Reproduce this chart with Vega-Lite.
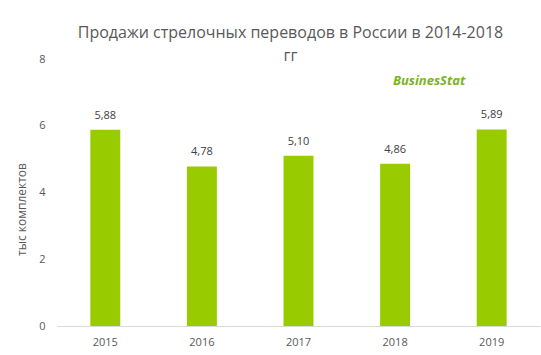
{
  "$schema": "https://vega.github.io/schema/vega-lite/v6.json",
  "width": 483,
  "height": 267,
  "autosize": {"type": "none"},
  "padding": {"left": 57, "top": 59, "right": 1, "bottom": 29},
  "background": "white",
  "title": {
    "text": ["Продажи стрелочных переводов в России в 2014-2018", "гг"],
    "font": "Open Sans",
    "fontSize": 16,
    "fontWeight": "normal",
    "color": "#595959",
    "anchor": "middle",
    "frame": "group",
    "dx": -8,
    "offset": -11,
    "lineHeight": 23
  },
  "data": {
    "values": [
      {"year": "2015", "value": 5.88},
      {"year": "2016", "value": 4.78},
      {"year": "2017", "value": 5.10},
      {"year": "2018", "value": 4.86},
      {"year": "2019", "value": 5.89}
    ]
  },
  "encoding": {
    "x": {
      "field": "year",
      "type": "ordinal",
      "scale": {"paddingInner": 0.69, "paddingOuter": 0.345},
      "axis": {
        "title": null,
        "labelAngle": 0,
        "ticks": false,
        "domainColor": "#d9d9d9",
        "domainWidth": 1,
        "labelPadding": 10,
        "labelFont": "Open Sans",
        "labelFontSize": 11,
        "labelColor": "#595959"
      }
    },
    "y": {
      "field": "value",
      "type": "quantitative",
      "scale": {"domain": [0, 8]},
      "axis": {
        "title": "тыс комплектов",
        "titleFont": "Open Sans",
        "titleFontSize": 12,
        "titleFontWeight": "normal",
        "titleColor": "#595959",
        "titlePadding": 10,
        "titleY": 150,
        "values": [0, 2, 4, 6, 8],
        "domain": false,
        "ticks": false,
        "grid": false,
        "labelPadding": 12,
        "labelFont": "Open Sans",
        "labelFontSize": 11,
        "labelColor": "#595959"
      }
    }
  },
  "layer": [
    {"mark": {"type": "bar", "color": "#99cc00"}},
    {
      "mark": {"type": "text", "dy": -9, "baseline": "bottom", "font": "Open Sans", "fontSize": 11, "color": "#404040"},
      "encoding": {"text": {"field": "value", "type": "quantitative", "format": ".2f"}}
    },
    {
      "data": {"values": [{"year": "2018", "value": 7.33, "logo": "BusinesStat"}]},
      "mark": {"type": "text", "dx": 34, "font": "Open Sans", "fontSize": 13, "fontWeight": "bold", "fontStyle": "italic", "color": "#7ab51d"},
      "encoding": {"text": {"field": "logo"}}
    }
  ],
  "config": {
    "view": {"stroke": null},
    "locale": {"number": {"decimal": ",", "thousands": " ", "grouping": [3], "currency": ["", ""]}}
  }
}
